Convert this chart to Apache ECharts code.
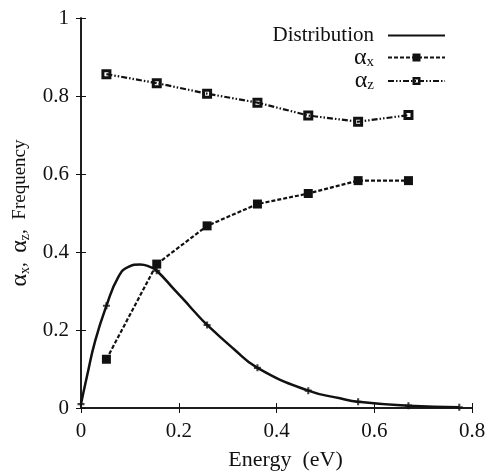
<!DOCTYPE html>
<html>
<head>
<meta charset="utf-8">
<script src="https://cdn.jsdelivr.net/npm/echarts@6/dist/echarts.min.js"></script>
<style>
  html, body { margin: 0; padding: 0; background: #fff; }
  #chart { width: 487px; height: 472px; }
</style>
</head>
<body>
<div id="chart"></div>
<script>
// Energy grid of the computed points (eV)
const energy = [0.052, 0.155, 0.258, 0.361, 0.465, 0.567, 0.67];
const alphaX = [0.125, 0.369, 0.467, 0.523, 0.550, 0.583, 0.583];
const alphaZ = [0.856, 0.833, 0.806, 0.783, 0.750, 0.734, 0.751];

// Energy distribution: marked samples
const distEnergy = [0, 0.052, 0.155, 0.258, 0.361, 0.465, 0.567, 0.67, 0.774];
const distValue = [0.010, 0.262, 0.352, 0.213, 0.103, 0.0445, 0.016, 0.006, 0.002];

// Energy distribution: fitted curve
const curveEnergy = [0, 0.012, 0.029, 0.052, 0.076, 0.097, 0.121, 0.141, 0.155, 0.192, 0.213, 0.23, 0.258, 0.312, 0.361, 0.465, 0.53, 0.567, 0.67, 0.774];
const curveValue = [0.010, 0.080, 0.172, 0.262, 0.335, 0.362, 0.368, 0.362, 0.352, 0.302, 0.274, 0.250, 0.213, 0.152, 0.103, 0.0445, 0.025, 0.016, 0.006, 0.002];

const xTicks = [0, 0.2, 0.4, 0.6, 0.8];
const yTicks = [0, 0.2, 0.4, 0.6, 0.8, 1];

const FONT = 'Liberation Serif';
const INK = '#111';
const pair = (xs, ys) => xs.map((x, i) => [x, ys[i]]);

const squareFilled = 'path://M0,0H10V10H0Z';
const squareHollow = 'path://M0,0H10V10H0Z M3,3V7H7V3Z';
const plusMark = 'path://M3.5,0H6.5V3.5H10V6.5H6.5V10H3.5V6.5H0V3.5H3.5Z';

// Greek letter with a lowered subscript
const greekRich = (alSize, subSize, baseSize) => ({
  al: { fontFamily: FONT, fontSize: alSize, color: INK },
  sub: { fontFamily: FONT, fontSize: subSize, color: INK, verticalAlign: 'bottom', padding: [9, 0, 0, 0] },
  gap: { fontFamily: FONT, fontSize: baseSize, color: INK }
});

const chart = echarts.init(document.getElementById('chart'), null, { renderer: 'canvas' });

const axisCommon = {
  type: 'value',
  min: 0,
  interval: 0.2,
  axisLine: { show: true, lineStyle: { color: INK, width: 1.5 } },
  axisTick: { show: true, inside: true, length: 5, lineStyle: { color: INK, width: 1 } },
  splitLine: { show: false }
};

chart.setOption({
  animation: false,
  backgroundColor: '#fff',
  grid: { left: 81, right: 15, top: 18, bottom: 64, containLabel: false, outerBoundsMode: 'none' },
  legend: {
    orient: 'vertical',
    right: 41,
    top: 25,
    padding: 0,
    align: 'right',
    itemWidth: 57,
    itemHeight: 10,
    itemGap: -0.5,
    data: [
      { name: 'Distribution', itemStyle: { color: 'rgba(0,0,0,0)', borderColor: 'rgba(0,0,0,0)', borderWidth: 0 } },
      'αx',
      'αz'
    ],
    formatter: function (name) {
      if (name === 'αx') return '{al|α}{sub|x}';
      if (name === 'αz') return '{al|α}{sub|z}';
      return name;
    },
    textStyle: {
      fontFamily: FONT, fontSize: 21, color: INK,
      padding: [0, 9, 0, 0],
      rich: greekRich(24, 15, 21)
    }
  },
  xAxis: [
    Object.assign({}, axisCommon, {
      max: 0.8,
      position: 'bottom',
      name: 'Energy  (eV)',
      nameLocation: 'middle',
      nameGap: 41,
      nameTextStyle: { fontFamily: FONT, fontSize: 22, color: INK, padding: [0, 0, 0, 18] },
      axisLabel: {
        fontFamily: FONT, fontSize: 21, color: INK, margin: 13,
        formatter: v => {
          const r = Math.round(v * 10) / 10;
          return xTicks.includes(r) ? String(r) : '';
        }
      }
    }),
    Object.assign({}, axisCommon, {
      max: 0.8,
      position: 'top',
      axisLabel: { show: false }
    })
  ],
  yAxis: [
    Object.assign({}, axisCommon, {
      max: 1,
      position: 'left',
      name: '{al|α}{sub|x}{gap|,  }{al|α}{sub|z}{gap|,  Frequency}',
      nameLocation: 'middle',
      nameGap: 34,
      nameRotate: 90,
      nameTextStyle: { fontFamily: FONT, fontSize: 19, color: INK, rich: greekRich(24, 14, 19) },
      axisLabel: {
        fontFamily: FONT, fontSize: 21, color: INK, margin: 12,
        formatter: v => {
          const r = Math.round(v * 10) / 10;
          return yTicks.includes(r) ? String(r) : '';
        }
      }
    }),
    Object.assign({}, axisCommon, {
      max: 1,
      position: 'right',
      axisLabel: { show: false }
    })
  ],
  series: [
    {
      name: 'Distribution',
      type: 'line',
      data: pair(curveEnergy, curveValue),
      smooth: 0.5,
      showSymbol: false,
      symbol: 'none',
      lineStyle: { color: INK, width: 2.5, type: 'solid' },
      itemStyle: { color: INK },
      z: 3
    },
    {
      name: 'DistributionPoints',
      type: 'scatter',
      data: pair(distEnergy, distValue),
      symbol: plusMark,
      symbolSize: 7,
      itemStyle: { color: INK },
      z: 4
    },
    {
      name: 'αx',
      type: 'line',
      data: pair(energy, alphaX),
      symbol: squareFilled,
      symbolSize: 9,
      showAllSymbol: true,
      lineStyle: { color: INK, width: 2.2, type: [4, 2] },
      itemStyle: { color: INK },
      z: 5
    },
    {
      name: 'αz',
      type: 'line',
      data: pair(energy, alphaZ),
      symbol: squareHollow,
      symbolSize: 10,
      showAllSymbol: true,
      lineStyle: { color: INK, width: 2.2, type: [6, 2, 1.5, 2, 1.5, 2] },
      itemStyle: { color: INK },
      z: 5
    }
  ]
});
</script>
</body>
</html>
